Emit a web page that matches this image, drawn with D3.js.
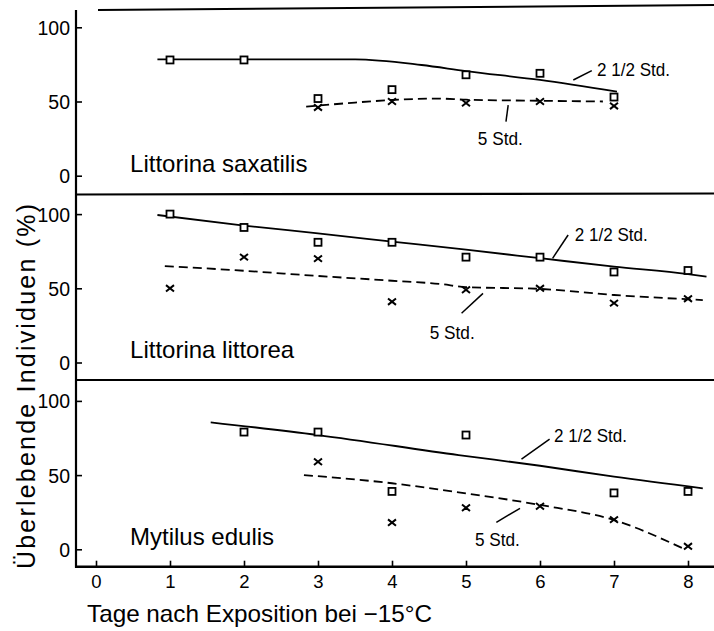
<!DOCTYPE html>
<html><head><meta charset="utf-8">
<script src="https://cdn.jsdelivr.net/npm/d3@7"></script>
<style>
html,body{margin:0;padding:0;background:#fff;}
svg{display:block;}
text{font-family:"Liberation Sans",Arial,sans-serif;fill:#000;}
</style></head><body><svg id="c" width="714" height="631"></svg>
<script>
// ---- data ----
const days = [1,2,3,4,5,6,7,8];
const xTicks = [0,1,2,3,4,5,6,7,8];
const yTicks = [0,50,100];
const species = ["Littorina saxatilis","Littorina littorea","Mytilus edulis"];
const seriesNames = ["2 1/2 Std.","5 Std."];
// observed survival (%) after 2 1/2 h and 5 h exposure
const saxatilis25 = [78,78,52,58,68,69,53,null];
const saxatilis5  = [null,null,46,50,49,50,47,null];
const littorea25  = [100,91,81,81,71,71,61,62];
const littorea5   = [50,71,70,41,49,50,40,43];
const edulis25    = [null,79,79,39,77,null,38,39];
const edulis5     = [null,null,59,18,28,29,20,2];
// hand-drawn trend curves [day, %]
const saxatilisFit25 = [[0.83,78.4],[3.5,78.4],[4.4,74.6],[5,70.5],[6,64.5],[7.04,56.6]];
const saxatilisFit5  = [[2.84,46.5],[3.5,49.3],[4,51],[4.6,52],[5,51.2],[6,50.5],[6.85,50]];
const littoreaFit25  = [[0.83,99.4],[2,92.3],[3,87],[4,81.5],[5,76],[6,70.3],[7,64.6],[8,59.6],[8.25,57.8]];
const littoreaFit5   = [[0.93,65],[2,61.8],[3,58.3],[4,55.1],[4.65,52.9],[5,50.8],[6,49.6],[7,45.5],[8.2,42.1]];
const edulisFit25    = [[1.55,85.6],[3,77],[4.9,63.5],[6,56.3],[7,48.9],[8.2,41.1]];
const edulisFit5     = [[2.81,50],[4,44.5],[4.9,38.4],[6,29.9],[7,19.7],[7.95,0.2]];

const panelObs = [[saxatilis25,saxatilis5],[littorea25,littorea5],[edulis25,edulis5]];
const panelFits = [[saxatilisFit25,saxatilisFit5],[littoreaFit25,littoreaFit5],[edulisFit25,edulisFit5]];

// ---- layout ----
const svg = d3.select("#c");
const axisX = 76, rightX = 714;
const x = d3.scaleLinear().domain([0,8]).range([96,688]);
const panelZero = [175.7, 362.5, 549.3];
const ys = panelZero.map(z => d3.scaleLinear().domain([0,100]).range([z, z-148.4]));
const bottomY = 566.7;
const labelWidths = [73, 45];

// annotation anchors in data units (day, %)
const annots = [
  [{at:[6.77,67.5], lead:[[6.45,64.5],[6.70,70.8]]}, {at:[5.16,20.5], lead:[[5.57,47.6],[5.54,36.4]]}],
  [{at:[6.47,82], lead:[[6.17,70.2],[6.38,85.9]]}, {at:[4.51,16], lead:[[5.23,46.6],[4.94,33.2]]}],
  [{at:[6.19,72], lead:[[5.75,60.8],[6.13,74.3]]}, {at:[5.12,2.5], lead:[[5.41,18.2],[5.73,27.6]]}]
];

// frame lines
const frame = svg.append("g").attr("stroke","#000").attr("fill","none");
frame.append("line").attr("x1",98).attr("y1",10).attr("x2",rightX).attr("y2",5).attr("stroke-width",2);
frame.append("line").attr("x1",axisX).attr("y1",194.5).attr("x2",rightX).attr("y2",193.5).attr("stroke-width",2.2);
frame.append("line").attr("x1",axisX).attr("y1",380).attr("x2",rightX).attr("y2",380).attr("stroke-width",2.2);
frame.append("line").attr("x1",axisX-1).attr("y1",bottomY).attr("x2",rightX).attr("y2",bottomY).attr("stroke-width",2.4);
frame.append("line").attr("x1",axisX).attr("y1",10).attr("x2",axisX).attr("y2",bottomY+1).attr("stroke-width",2.2);

// y axes
ys.forEach(y => {
  const g = svg.append("g").attr("transform",`translate(${axisX},0)`)
    .call(d3.axisLeft(y).tickValues(yTicks).tickSizeInner(-6).tickSizeOuter(0).tickPadding(6).tickFormat(d3.format("d")));
  g.select(".domain").remove();
  g.selectAll(".tick line").attr("stroke","#000").attr("stroke-width",1.6);
  g.selectAll(".tick text").attr("font-size",19.5).attr("font-family","Liberation Sans, Arial, sans-serif").attr("fill","#000").attr("dy","0.36em");
});

// x axis
const gx = svg.append("g").attr("transform",`translate(0,${bottomY})`)
  .call(d3.axisBottom(x).tickValues(xTicks).tickSizeInner(-6).tickSizeOuter(0).tickPadding(8).tickFormat(d3.format("d")));
gx.select(".domain").remove();
gx.selectAll(".tick line").attr("stroke","#000").attr("stroke-width",1.6);
gx.selectAll(".tick text").attr("font-size",18.5).attr("font-family","Liberation Sans, Arial, sans-serif").attr("fill","#000");

// panels
panelObs.forEach((obs, p) => {
  const y = ys[p];
  const g = svg.append("g");
  const line = d3.line().x(d => x(d[0])).y(d => y(d[1])).curve(d3.curveMonotoneX);
  g.append("path").datum(panelFits[p][0]).attr("d",line)
    .attr("fill","none").attr("stroke","#000").attr("stroke-width",1.8);
  g.append("path").datum(panelFits[p][1]).attr("d",line)
    .attr("fill","none").attr("stroke","#000").attr("stroke-width",1.8).attr("stroke-dasharray","9,5");
  g.selectAll("rect.sq").data(days.map((d,i)=>[d,obs[0][i]]).filter(d=>d[1]!=null)).join("rect")
    .attr("class","sq")
    .attr("x",d=>x(d[0])-3.5).attr("y",d=>y(d[1])-3.5).attr("width",7).attr("height",7)
    .attr("fill","#fff").attr("stroke","#000").attr("stroke-width",1.8);
  g.selectAll("path.cr").data(days.map((d,i)=>[d,obs[1][i]]).filter(d=>d[1]!=null)).join("path")
    .attr("class","cr")
    .attr("transform",d=>`translate(${x(d[0])},${y(d[1])})`)
    .attr("d","M-4,-3.2L4,3.2M-4,3.2L4,-3.2")
    .attr("fill","none").attr("stroke","#000").attr("stroke-width",2);
  annots[p].forEach((a,k) => {
    g.append("line")
      .attr("x1",x(a.lead[0][0])).attr("y1",y(a.lead[0][1]))
      .attr("x2",x(a.lead[1][0])).attr("y2",y(a.lead[1][1]))
      .attr("stroke","#000").attr("stroke-width",1.5);
    g.append("text").attr("x",x(a.at[0])).attr("y",y(a.at[1]))
      .attr("font-size",19).attr("textLength",labelWidths[k]).attr("lengthAdjust","spacingAndGlyphs")
      .text(seriesNames[k]);
  });
  g.append("text").attr("x",x(0.46)).attr("y",y(2.8)).attr("font-size",24).text(species[p]);
});

// axis titles
svg.append("text").attr("x",87).attr("y",622).attr("font-size",24)
  .attr("textLength",345).attr("lengthAdjust","spacingAndGlyphs")
  .text("Tage nach Exposition bei \u221215\u00b0C");
svg.append("text").attr("transform","translate(35,386.5) rotate(-90)")
  .attr("text-anchor","middle").attr("font-size",25)
  .attr("textLength",365).attr("lengthAdjust","spacing")
  .text("Überlebende Individuen (%)");
</script></body></html>
